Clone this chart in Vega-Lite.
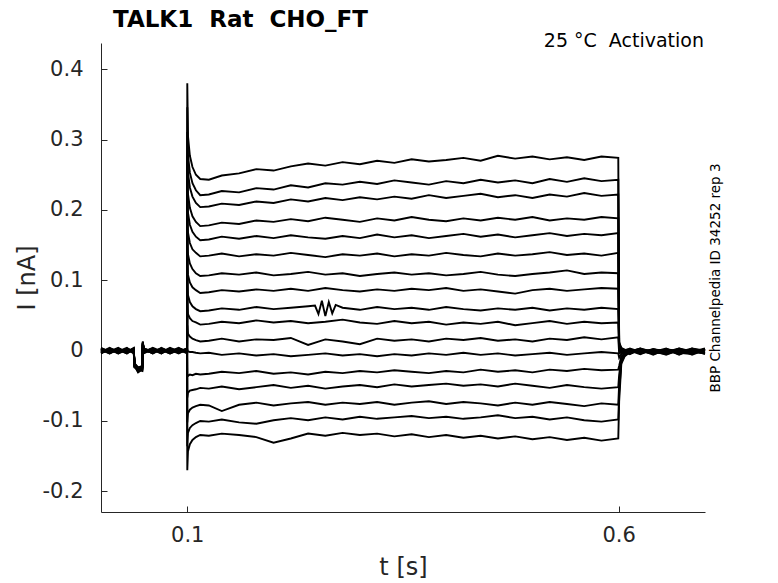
{
  "$schema": "https://vega.github.io/schema/vega-lite/v6.json",
  "width": 604,
  "height": 469,
  "autosize": {"type": "none"},
  "padding": {"left": 101, "top": 43, "right": 73, "bottom": 71},
  "title": {
    "text": "TALK1\u00a0\u00a0Rat\u00a0\u00a0CHO_FT",
    "anchor": "start",
    "frame": "group",
    "dx": 12,
    "offset": 0,
    "font": "DejaVu Sans",
    "fontSize": 23,
    "fontWeight": "bold",
    "color": "#000000"
  },
  "datasets": {
    "traces": [
      {"k":1,"t":0,"i":0.002},{"k":1,"t":0.01,"i":-0.003},{"k":1,"t":0.02,"i":0.001},{"k":1,"t":0.03,"i":-0.002},{"k":1,"t":0.038,"i":0.001},{"k":1,"t":0.0388,"i":-0.018},{"k":1,"t":0.043,"i":-0.024},{"k":1,"t":0.0478,"i":-0.022},{"k":1,"t":0.0485,"i":0.010},{"k":1,"t":0.0495,"i":0.001},{"k":1,"t":0.06,"i":-0.003},{"k":1,"t":0.07,"i":0.002},{"k":1,"t":0.08,"i":-0.002},{"k":1,"t":0.09,"i":0.003},{"k":1,"t":0.0998,"i":-0.001},
      {"k":1,"t":0.1,"i":0.380},{"k":1,"t":0.1008,"i":0.305},{"k":1,"t":0.103,"i":0.277},{"k":1,"t":0.106,"i":0.261},{"k":1,"t":0.11,"i":0.250},{"k":1,"t":0.115,"i":0.244},
      {"k":1,"t":0.125,"i":0.243},{"k":1,"t":0.14,"i":0.249},{"k":1,"t":0.16,"i":0.252},{"k":1,"t":0.18,"i":0.258},{"k":1,"t":0.2,"i":0.256},{"k":1,"t":0.22,"i":0.262},{"k":1,"t":0.24,"i":0.266},{"k":1,"t":0.26,"i":0.263},{"k":1,"t":0.28,"i":0.268},{"k":1,"t":0.3,"i":0.265},{"k":1,"t":0.32,"i":0.270},{"k":1,"t":0.34,"i":0.267},{"k":1,"t":0.36,"i":0.272},{"k":1,"t":0.38,"i":0.269},{"k":1,"t":0.4,"i":0.271},{"k":1,"t":0.42,"i":0.274},{"k":1,"t":0.44,"i":0.270},{"k":1,"t":0.46,"i":0.277},{"k":1,"t":0.48,"i":0.273},{"k":1,"t":0.5,"i":0.276},{"k":1,"t":0.52,"i":0.272},{"k":1,"t":0.54,"i":0.275},{"k":1,"t":0.56,"i":0.271},{"k":1,"t":0.58,"i":0.276},{"k":1,"t":0.5995,"i":0.274},
      {"k":1,"t":0.6005,"i":0.012},{"k":1,"t":0.603,"i":0.004},{"k":1,"t":0.607,"i":0.001},{"k":1,"t":0.613,"i":-0.002},{"k":1,"t":0.625,"i":0.002},{"k":1,"t":0.64,"i":-0.004},{"k":1,"t":0.655,"i":0.001},{"k":1,"t":0.67,"i":-0.003},{"k":1,"t":0.685,"i":0.002},{"k":1,"t":0.7,"i":-0.001},

      {"k":2,"t":0,"i":-0.002},{"k":2,"t":0.01,"i":0.003},{"k":2,"t":0.02,"i":-0.001},{"k":2,"t":0.03,"i":0.002},{"k":2,"t":0.038,"i":-0.003},{"k":2,"t":0.0388,"i":-0.021},{"k":2,"t":0.043,"i":-0.027},{"k":2,"t":0.0478,"i":-0.024},{"k":2,"t":0.0485,"i":0.012},{"k":2,"t":0.0495,"i":-0.002},{"k":2,"t":0.06,"i":0.003},{"k":2,"t":0.07,"i":-0.003},{"k":2,"t":0.08,"i":0.002},{"k":2,"t":0.09,"i":-0.002},{"k":2,"t":0.0998,"i":0.002},
      {"k":2,"t":0.1,"i":0.346},{"k":2,"t":0.1008,"i":0.278},{"k":2,"t":0.103,"i":0.253},{"k":2,"t":0.106,"i":0.238},{"k":2,"t":0.11,"i":0.228},{"k":2,"t":0.115,"i":0.221},
      {"k":2,"t":0.125,"i":0.222},{"k":2,"t":0.14,"i":0.227},{"k":2,"t":0.16,"i":0.225},{"k":2,"t":0.18,"i":0.231},{"k":2,"t":0.2,"i":0.229},{"k":2,"t":0.22,"i":0.235},{"k":2,"t":0.24,"i":0.232},{"k":2,"t":0.26,"i":0.238},{"k":2,"t":0.28,"i":0.236},{"k":2,"t":0.3,"i":0.240},{"k":2,"t":0.32,"i":0.237},{"k":2,"t":0.34,"i":0.242},{"k":2,"t":0.36,"i":0.239},{"k":2,"t":0.38,"i":0.236},{"k":2,"t":0.4,"i":0.241},{"k":2,"t":0.42,"i":0.238},{"k":2,"t":0.44,"i":0.243},{"k":2,"t":0.46,"i":0.239},{"k":2,"t":0.48,"i":0.242},{"k":2,"t":0.5,"i":0.238},{"k":2,"t":0.52,"i":0.244},{"k":2,"t":0.54,"i":0.240},{"k":2,"t":0.56,"i":0.245},{"k":2,"t":0.58,"i":0.241},{"k":2,"t":0.5995,"i":0.243},
      {"k":2,"t":0.6005,"i":0.010},{"k":2,"t":0.603,"i":0.003},{"k":2,"t":0.607,"i":0.000},{"k":2,"t":0.613,"i":0.001},{"k":2,"t":0.625,"i":-0.004},{"k":2,"t":0.64,"i":0.002},{"k":2,"t":0.655,"i":-0.002},{"k":2,"t":0.67,"i":0.003},{"k":2,"t":0.685,"i":-0.003},{"k":2,"t":0.7,"i":0.001},

      {"k":3,"t":0,"i":0.003},{"k":3,"t":0.01,"i":-0.001},{"k":3,"t":0.02,"i":0.004},{"k":3,"t":0.03,"i":-0.003},{"k":3,"t":0.038,"i":0.002},{"k":3,"t":0.0388,"i":-0.020},{"k":3,"t":0.043,"i":-0.026},{"k":3,"t":0.0478,"i":-0.023},{"k":3,"t":0.0485,"i":0.009},{"k":3,"t":0.0495,"i":0.003},{"k":3,"t":0.06,"i":-0.002},{"k":3,"t":0.07,"i":0.001},{"k":3,"t":0.08,"i":-0.004},{"k":3,"t":0.09,"i":0.001},{"k":3,"t":0.0998,"i":-0.003},
      {"k":3,"t":0.1,"i":0.311},{"k":3,"t":0.1008,"i":0.253},{"k":3,"t":0.103,"i":0.232},{"k":3,"t":0.106,"i":0.219},{"k":3,"t":0.11,"i":0.210},{"k":3,"t":0.115,"i":0.204},
      {"k":3,"t":0.125,"i":0.205},{"k":3,"t":0.14,"i":0.209},{"k":3,"t":0.16,"i":0.207},{"k":3,"t":0.18,"i":0.212},{"k":3,"t":0.2,"i":0.210},{"k":3,"t":0.22,"i":0.215},{"k":3,"t":0.24,"i":0.212},{"k":3,"t":0.26,"i":0.217},{"k":3,"t":0.28,"i":0.214},{"k":3,"t":0.3,"i":0.218},{"k":3,"t":0.32,"i":0.215},{"k":3,"t":0.34,"i":0.219},{"k":3,"t":0.36,"i":0.216},{"k":3,"t":0.38,"i":0.221},{"k":3,"t":0.4,"i":0.217},{"k":3,"t":0.42,"i":0.220},{"k":3,"t":0.44,"i":0.223},{"k":3,"t":0.46,"i":0.218},{"k":3,"t":0.48,"i":0.221},{"k":3,"t":0.5,"i":0.217},{"k":3,"t":0.52,"i":0.222},{"k":3,"t":0.54,"i":0.219},{"k":3,"t":0.56,"i":0.224},{"k":3,"t":0.58,"i":0.220},{"k":3,"t":0.5995,"i":0.222},
      {"k":3,"t":0.6005,"i":0.009},{"k":3,"t":0.603,"i":0.002},{"k":3,"t":0.607,"i":-0.001},{"k":3,"t":0.613,"i":-0.004},{"k":3,"t":0.625,"i":0.001},{"k":3,"t":0.64,"i":-0.002},{"k":3,"t":0.655,"i":0.003},{"k":3,"t":0.67,"i":-0.005},{"k":3,"t":0.685,"i":0.000},{"k":3,"t":0.7,"i":-0.003},

      {"k":4,"t":0,"i":-0.004},{"k":4,"t":0.01,"i":0.002},{"k":4,"t":0.02,"i":-0.002},{"k":4,"t":0.03,"i":0.003},{"k":4,"t":0.038,"i":-0.001},{"k":4,"t":0.0388,"i":-0.019},{"k":4,"t":0.043,"i":-0.028},{"k":4,"t":0.0478,"i":-0.025},{"k":4,"t":0.0485,"i":0.011},{"k":4,"t":0.0495,"i":-0.001},{"k":4,"t":0.06,"i":0.002},{"k":4,"t":0.07,"i":-0.004},{"k":4,"t":0.08,"i":0.003},{"k":4,"t":0.09,"i":-0.003},{"k":4,"t":0.0998,"i":0.001},
      {"k":4,"t":0.1,"i":0.277},{"k":4,"t":0.1008,"i":0.223},{"k":4,"t":0.103,"i":0.203},{"k":4,"t":0.106,"i":0.191},{"k":4,"t":0.11,"i":0.183},{"k":4,"t":0.115,"i":0.177},
      {"k":4,"t":0.125,"i":0.178},{"k":4,"t":0.14,"i":0.182},{"k":4,"t":0.16,"i":0.180},{"k":4,"t":0.18,"i":0.185},{"k":4,"t":0.2,"i":0.183},{"k":4,"t":0.22,"i":0.187},{"k":4,"t":0.24,"i":0.184},{"k":4,"t":0.26,"i":0.189},{"k":4,"t":0.28,"i":0.186},{"k":4,"t":0.3,"i":0.183},{"k":4,"t":0.32,"i":0.188},{"k":4,"t":0.34,"i":0.185},{"k":4,"t":0.36,"i":0.190},{"k":4,"t":0.38,"i":0.186},{"k":4,"t":0.4,"i":0.184},{"k":4,"t":0.42,"i":0.188},{"k":4,"t":0.44,"i":0.185},{"k":4,"t":0.46,"i":0.189},{"k":4,"t":0.48,"i":0.186},{"k":4,"t":0.5,"i":0.190},{"k":4,"t":0.52,"i":0.185},{"k":4,"t":0.54,"i":0.188},{"k":4,"t":0.56,"i":0.186},{"k":4,"t":0.58,"i":0.190},{"k":4,"t":0.5995,"i":0.188},
      {"k":4,"t":0.6005,"i":0.008},{"k":4,"t":0.603,"i":0.003},{"k":4,"t":0.607,"i":0.001},{"k":4,"t":0.613,"i":0.002},{"k":4,"t":0.625,"i":-0.003},{"k":4,"t":0.64,"i":0.001},{"k":4,"t":0.655,"i":-0.004},{"k":4,"t":0.67,"i":0.001},{"k":4,"t":0.685,"i":-0.002},{"k":4,"t":0.7,"i":0.003},

      {"k":5,"t":0,"i":0.001},{"k":5,"t":0.01,"i":-0.004},{"k":5,"t":0.02,"i":0.002},{"k":5,"t":0.03,"i":-0.001},{"k":5,"t":0.038,"i":0.003},{"k":5,"t":0.0388,"i":-0.022},{"k":5,"t":0.043,"i":-0.025},{"k":5,"t":0.0478,"i":-0.027},{"k":5,"t":0.0485,"i":0.008},{"k":5,"t":0.0495,"i":0.002},{"k":5,"t":0.06,"i":-0.004},{"k":5,"t":0.07,"i":0.003},{"k":5,"t":0.08,"i":-0.001},{"k":5,"t":0.09,"i":0.002},{"k":5,"t":0.0998,"i":-0.002},
      {"k":5,"t":0.1,"i":0.242},{"k":5,"t":0.1008,"i":0.196},{"k":5,"t":0.103,"i":0.179},{"k":5,"t":0.106,"i":0.169},{"k":5,"t":0.11,"i":0.162},{"k":5,"t":0.115,"i":0.157},
      {"k":5,"t":0.125,"i":0.158},{"k":5,"t":0.14,"i":0.162},{"k":5,"t":0.16,"i":0.159},{"k":5,"t":0.18,"i":0.163},{"k":5,"t":0.2,"i":0.160},{"k":5,"t":0.22,"i":0.164},{"k":5,"t":0.24,"i":0.161},{"k":5,"t":0.26,"i":0.159},{"k":5,"t":0.28,"i":0.163},{"k":5,"t":0.3,"i":0.160},{"k":5,"t":0.32,"i":0.165},{"k":5,"t":0.34,"i":0.161},{"k":5,"t":0.36,"i":0.164},{"k":5,"t":0.38,"i":0.160},{"k":5,"t":0.4,"i":0.163},{"k":5,"t":0.42,"i":0.166},{"k":5,"t":0.44,"i":0.162},{"k":5,"t":0.46,"i":0.165},{"k":5,"t":0.48,"i":0.161},{"k":5,"t":0.5,"i":0.164},{"k":5,"t":0.52,"i":0.167},{"k":5,"t":0.54,"i":0.163},{"k":5,"t":0.56,"i":0.166},{"k":5,"t":0.58,"i":0.164},{"k":5,"t":0.5995,"i":0.167},
      {"k":5,"t":0.6005,"i":0.007},{"k":5,"t":0.603,"i":0.001},{"k":5,"t":0.607,"i":-0.002},{"k":5,"t":0.613,"i":-0.001},{"k":5,"t":0.625,"i":0.003},{"k":5,"t":0.64,"i":-0.005},{"k":5,"t":0.655,"i":0.000},{"k":5,"t":0.67,"i":-0.002},{"k":5,"t":0.685,"i":0.003},{"k":5,"t":0.7,"i":-0.004},

      {"k":6,"t":0,"i":-0.001},{"k":6,"t":0.01,"i":0.002},{"k":6,"t":0.02,"i":-0.004},{"k":6,"t":0.03,"i":0.001},{"k":6,"t":0.038,"i":-0.002},{"k":6,"t":0.0388,"i":-0.020},{"k":6,"t":0.043,"i":-0.029},{"k":6,"t":0.0478,"i":-0.023},{"k":6,"t":0.0485,"i":0.013},{"k":6,"t":0.0495,"i":-0.003},{"k":6,"t":0.06,"i":0.001},{"k":6,"t":0.07,"i":-0.002},{"k":6,"t":0.08,"i":0.004},{"k":6,"t":0.09,"i":-0.001},{"k":6,"t":0.0998,"i":0.003},
      {"k":6,"t":0.1,"i":0.208},{"k":6,"t":0.1008,"i":0.168},{"k":6,"t":0.103,"i":0.153},{"k":6,"t":0.106,"i":0.144},{"k":6,"t":0.11,"i":0.139},{"k":6,"t":0.115,"i":0.134},
      {"k":6,"t":0.125,"i":0.135},{"k":6,"t":0.14,"i":0.138},{"k":6,"t":0.16,"i":0.134},{"k":6,"t":0.18,"i":0.137},{"k":6,"t":0.2,"i":0.135},{"k":6,"t":0.22,"i":0.139},{"k":6,"t":0.24,"i":0.136},{"k":6,"t":0.26,"i":0.133},{"k":6,"t":0.28,"i":0.137},{"k":6,"t":0.3,"i":0.135},{"k":6,"t":0.32,"i":0.138},{"k":6,"t":0.34,"i":0.134},{"k":6,"t":0.36,"i":0.137},{"k":6,"t":0.38,"i":0.135},{"k":6,"t":0.4,"i":0.139},{"k":6,"t":0.42,"i":0.136},{"k":6,"t":0.44,"i":0.134},{"k":6,"t":0.46,"i":0.138},{"k":6,"t":0.48,"i":0.135},{"k":6,"t":0.5,"i":0.137},{"k":6,"t":0.52,"i":0.140},{"k":6,"t":0.54,"i":0.136},{"k":6,"t":0.56,"i":0.138},{"k":6,"t":0.58,"i":0.135},{"k":6,"t":0.5995,"i":0.139},
      {"k":6,"t":0.6005,"i":0.006},{"k":6,"t":0.603,"i":0.002},{"k":6,"t":0.607,"i":0.000},{"k":6,"t":0.613,"i":0.003},{"k":6,"t":0.625,"i":-0.002},{"k":6,"t":0.64,"i":0.000},{"k":6,"t":0.655,"i":-0.003},{"k":6,"t":0.67,"i":0.002},{"k":6,"t":0.685,"i":-0.006},{"k":6,"t":0.7,"i":0.001},

      {"k":7,"t":0,"i":0.004},{"k":7,"t":0.01,"i":-0.002},{"k":7,"t":0.02,"i":0.001},{"k":7,"t":0.03,"i":-0.004},{"k":7,"t":0.038,"i":0.002},{"k":7,"t":0.0388,"i":-0.023},{"k":7,"t":0.043,"i":-0.026},{"k":7,"t":0.0478,"i":-0.028},{"k":7,"t":0.0485,"i":0.010},{"k":7,"t":0.0495,"i":0.002},{"k":7,"t":0.06,"i":-0.001},{"k":7,"t":0.07,"i":0.003},{"k":7,"t":0.08,"i":-0.003},{"k":7,"t":0.09,"i":0.002},{"k":7,"t":0.0998,"i":-0.004},
      {"k":7,"t":0.1,"i":0.174},{"k":7,"t":0.1008,"i":0.137},{"k":7,"t":0.103,"i":0.124},{"k":7,"t":0.106,"i":0.116},{"k":7,"t":0.11,"i":0.110},{"k":7,"t":0.115,"i":0.106},
      {"k":7,"t":0.125,"i":0.107},{"k":7,"t":0.14,"i":0.110},{"k":7,"t":0.16,"i":0.108},{"k":7,"t":0.18,"i":0.111},{"k":7,"t":0.2,"i":0.107},{"k":7,"t":0.22,"i":0.109},{"k":7,"t":0.24,"i":0.112},{"k":7,"t":0.26,"i":0.108},{"k":7,"t":0.28,"i":0.110},{"k":7,"t":0.3,"i":0.106},{"k":7,"t":0.32,"i":0.109},{"k":7,"t":0.34,"i":0.111},{"k":7,"t":0.36,"i":0.108},{"k":7,"t":0.38,"i":0.110},{"k":7,"t":0.4,"i":0.107},{"k":7,"t":0.42,"i":0.109},{"k":7,"t":0.44,"i":0.112},{"k":7,"t":0.46,"i":0.108},{"k":7,"t":0.48,"i":0.106},{"k":7,"t":0.5,"i":0.109},{"k":7,"t":0.52,"i":0.111},{"k":7,"t":0.54,"i":0.114},{"k":7,"t":0.56,"i":0.109},{"k":7,"t":0.58,"i":0.111},{"k":7,"t":0.5995,"i":0.110},
      {"k":7,"t":0.6005,"i":0.005},{"k":7,"t":0.603,"i":0.000},{"k":7,"t":0.607,"i":-0.001},{"k":7,"t":0.613,"i":-0.003},{"k":7,"t":0.625,"i":0.000},{"k":7,"t":0.64,"i":-0.003},{"k":7,"t":0.655,"i":0.002},{"k":7,"t":0.67,"i":-0.004},{"k":7,"t":0.685,"i":0.001},{"k":7,"t":0.7,"i":-0.002},

      {"k":8,"t":0,"i":-0.003},{"k":8,"t":0.01,"i":0.001},{"k":8,"t":0.02,"i":-0.003},{"k":8,"t":0.03,"i":0.002},{"k":8,"t":0.038,"i":-0.004},{"k":8,"t":0.0388,"i":-0.019},{"k":8,"t":0.043,"i":-0.030},{"k":8,"t":0.0478,"i":-0.024},{"k":8,"t":0.0485,"i":0.009},{"k":8,"t":0.0495,"i":-0.002},{"k":8,"t":0.06,"i":0.004},{"k":8,"t":0.07,"i":-0.001},{"k":8,"t":0.08,"i":0.001},{"k":8,"t":0.09,"i":-0.004},{"k":8,"t":0.0998,"i":0.002},
      {"k":8,"t":0.1,"i":0.139},{"k":8,"t":0.1008,"i":0.108},{"k":8,"t":0.103,"i":0.097},{"k":8,"t":0.106,"i":0.090},{"k":8,"t":0.11,"i":0.086},{"k":8,"t":0.115,"i":0.082},
      {"k":8,"t":0.125,"i":0.083},{"k":8,"t":0.14,"i":0.086},{"k":8,"t":0.16,"i":0.084},{"k":8,"t":0.18,"i":0.087},{"k":8,"t":0.2,"i":0.085},{"k":8,"t":0.22,"i":0.088},{"k":8,"t":0.24,"i":0.085},{"k":8,"t":0.26,"i":0.089},{"k":8,"t":0.28,"i":0.086},{"k":8,"t":0.3,"i":0.084},{"k":8,"t":0.32,"i":0.087},{"k":8,"t":0.34,"i":0.085},{"k":8,"t":0.36,"i":0.088},{"k":8,"t":0.38,"i":0.086},{"k":8,"t":0.4,"i":0.089},{"k":8,"t":0.42,"i":0.085},{"k":8,"t":0.44,"i":0.087},{"k":8,"t":0.46,"i":0.084},{"k":8,"t":0.48,"i":0.081},{"k":8,"t":0.5,"i":0.086},{"k":8,"t":0.52,"i":0.088},{"k":8,"t":0.54,"i":0.085},{"k":8,"t":0.56,"i":0.087},{"k":8,"t":0.58,"i":0.089},{"k":8,"t":0.5995,"i":0.088},
      {"k":8,"t":0.6005,"i":0.004},{"k":8,"t":0.603,"i":0.001},{"k":8,"t":0.607,"i":-0.002},{"k":8,"t":0.613,"i":0.000},{"k":8,"t":0.625,"i":-0.005},{"k":8,"t":0.64,"i":0.002},{"k":8,"t":0.655,"i":-0.001},{"k":8,"t":0.67,"i":0.001},{"k":8,"t":0.685,"i":-0.004},{"k":8,"t":0.7,"i":0.002},

      {"k":9,"t":0,"i":0.002},{"k":9,"t":0.01,"i":-0.003},{"k":9,"t":0.02,"i":0.003},{"k":9,"t":0.03,"i":-0.002},{"k":9,"t":0.038,"i":0.001},{"k":9,"t":0.0388,"i":-0.021},{"k":9,"t":0.043,"i":-0.027},{"k":9,"t":0.0478,"i":-0.026},{"k":9,"t":0.0485,"i":0.012},{"k":9,"t":0.0495,"i":0.001},{"k":9,"t":0.06,"i":-0.003},{"k":9,"t":0.07,"i":0.004},{"k":9,"t":0.08,"i":-0.002},{"k":9,"t":0.09,"i":0.003},{"k":9,"t":0.0998,"i":-0.001},
      {"k":9,"t":0.1,"i":0.105},{"k":9,"t":0.1008,"i":0.079},{"k":9,"t":0.103,"i":0.069},{"k":9,"t":0.106,"i":0.063},{"k":9,"t":0.11,"i":0.059},{"k":9,"t":0.115,"i":0.056},
      {"k":9,"t":0.125,"i":0.057},{"k":9,"t":0.14,"i":0.060},{"k":9,"t":0.16,"i":0.058},{"k":9,"t":0.18,"i":0.062},{"k":9,"t":0.2,"i":0.059},{"k":9,"t":0.22,"i":0.061},{"k":9,"t":0.24,"i":0.063},{"k":9,"t":0.248,"i":0.064},{"k":9,"t":0.252,"i":0.052},{"k":9,"t":0.256,"i":0.071},{"k":9,"t":0.26,"i":0.049},{"k":9,"t":0.264,"i":0.069},{"k":9,"t":0.268,"i":0.053},{"k":9,"t":0.272,"i":0.065},{"k":9,"t":0.28,"i":0.061},{"k":9,"t":0.3,"i":0.058},{"k":9,"t":0.32,"i":0.062},{"k":9,"t":0.34,"i":0.059},{"k":9,"t":0.36,"i":0.061},{"k":9,"t":0.38,"i":0.058},{"k":9,"t":0.4,"i":0.062},{"k":9,"t":0.42,"i":0.059},{"k":9,"t":0.44,"i":0.057},{"k":9,"t":0.46,"i":0.060},{"k":9,"t":0.48,"i":0.058},{"k":9,"t":0.5,"i":0.061},{"k":9,"t":0.52,"i":0.057},{"k":9,"t":0.54,"i":0.060},{"k":9,"t":0.56,"i":0.058},{"k":9,"t":0.58,"i":0.061},{"k":9,"t":0.5995,"i":0.059},
      {"k":9,"t":0.6005,"i":0.002},{"k":9,"t":0.603,"i":-0.001},{"k":9,"t":0.607,"i":0.000},{"k":9,"t":0.613,"i":-0.005},{"k":9,"t":0.625,"i":0.002},{"k":9,"t":0.64,"i":-0.001},{"k":9,"t":0.655,"i":-0.004},{"k":9,"t":0.67,"i":0.003},{"k":9,"t":0.685,"i":-0.001},{"k":9,"t":0.7,"i":-0.003},

      {"k":10,"t":0,"i":-0.002},{"k":10,"t":0.01,"i":0.004},{"k":10,"t":0.02,"i":-0.002},{"k":10,"t":0.03,"i":0.001},{"k":10,"t":0.038,"i":-0.003},{"k":10,"t":0.0388,"i":-0.018},{"k":10,"t":0.043,"i":-0.025},{"k":10,"t":0.0478,"i":-0.022},{"k":10,"t":0.0485,"i":0.011},{"k":10,"t":0.0495,"i":-0.004},{"k":10,"t":0.06,"i":0.002},{"k":10,"t":0.07,"i":-0.003},{"k":10,"t":0.08,"i":0.002},{"k":10,"t":0.09,"i":-0.002},{"k":10,"t":0.0998,"i":0.001},
      {"k":10,"t":0.1,"i":0.070},{"k":10,"t":0.1008,"i":0.052},{"k":10,"t":0.103,"i":0.046},{"k":10,"t":0.106,"i":0.042},{"k":10,"t":0.11,"i":0.040},{"k":10,"t":0.115,"i":0.037},
      {"k":10,"t":0.125,"i":0.038},{"k":10,"t":0.14,"i":0.041},{"k":10,"t":0.16,"i":0.039},{"k":10,"t":0.18,"i":0.043},{"k":10,"t":0.2,"i":0.040},{"k":10,"t":0.22,"i":0.042},{"k":10,"t":0.24,"i":0.039},{"k":10,"t":0.26,"i":0.041},{"k":10,"t":0.28,"i":0.044},{"k":10,"t":0.3,"i":0.040},{"k":10,"t":0.32,"i":0.038},{"k":10,"t":0.34,"i":0.042},{"k":10,"t":0.36,"i":0.039},{"k":10,"t":0.38,"i":0.041},{"k":10,"t":0.4,"i":0.037},{"k":10,"t":0.42,"i":0.040},{"k":10,"t":0.44,"i":0.038},{"k":10,"t":0.46,"i":0.041},{"k":10,"t":0.48,"i":0.036},{"k":10,"t":0.5,"i":0.039},{"k":10,"t":0.52,"i":0.042},{"k":10,"t":0.54,"i":0.038},{"k":10,"t":0.56,"i":0.041},{"k":10,"t":0.58,"i":0.039},{"k":10,"t":0.5995,"i":0.040},
      {"k":10,"t":0.6005,"i":0.000},{"k":10,"t":0.603,"i":-0.002},{"k":10,"t":0.607,"i":-0.001},{"k":10,"t":0.613,"i":0.001},{"k":10,"t":0.625,"i":-0.001},{"k":10,"t":0.64,"i":-0.004},{"k":10,"t":0.655,"i":0.002},{"k":10,"t":0.67,"i":-0.006},{"k":10,"t":0.685,"i":0.002},{"k":10,"t":0.7,"i":0.000},

      {"k":11,"t":0,"i":0.001},{"k":11,"t":0.01,"i":-0.001},{"k":11,"t":0.02,"i":0.002},{"k":11,"t":0.03,"i":-0.004},{"k":11,"t":0.038,"i":0.003},{"k":11,"t":0.0388,"i":-0.022},{"k":11,"t":0.043,"i":-0.031},{"k":11,"t":0.0478,"i":-0.027},{"k":11,"t":0.0485,"i":0.008},{"k":11,"t":0.0495,"i":0.003},{"k":11,"t":0.06,"i":-0.002},{"k":11,"t":0.07,"i":0.001},{"k":11,"t":0.08,"i":-0.004},{"k":11,"t":0.09,"i":0.001},{"k":11,"t":0.0998,"i":-0.002},
      {"k":11,"t":0.1,"i":0.036},{"k":11,"t":0.1008,"i":0.024},{"k":11,"t":0.103,"i":0.020},{"k":11,"t":0.106,"i":0.017},{"k":11,"t":0.11,"i":0.015},{"k":11,"t":0.115,"i":0.013},
      {"k":11,"t":0.125,"i":0.014},{"k":11,"t":0.14,"i":0.017},{"k":11,"t":0.16,"i":0.013},{"k":11,"t":0.18,"i":0.016},{"k":11,"t":0.2,"i":0.015},{"k":11,"t":0.22,"i":0.018},{"k":11,"t":0.24,"i":0.008},{"k":11,"t":0.26,"i":0.016},{"k":11,"t":0.28,"i":0.013},{"k":11,"t":0.3,"i":0.009},{"k":11,"t":0.32,"i":0.017},{"k":11,"t":0.34,"i":0.014},{"k":11,"t":0.36,"i":0.016},{"k":11,"t":0.38,"i":0.013},{"k":11,"t":0.4,"i":0.017},{"k":11,"t":0.42,"i":0.015},{"k":11,"t":0.44,"i":0.018},{"k":11,"t":0.46,"i":0.014},{"k":11,"t":0.48,"i":0.016},{"k":11,"t":0.5,"i":0.013},{"k":11,"t":0.52,"i":0.017},{"k":11,"t":0.54,"i":0.015},{"k":11,"t":0.56,"i":0.019},{"k":11,"t":0.58,"i":0.016},{"k":11,"t":0.5995,"i":0.019},
      {"k":11,"t":0.6005,"i":-0.004},{"k":11,"t":0.603,"i":-0.003},{"k":11,"t":0.607,"i":-0.002},{"k":11,"t":0.613,"i":-0.002},{"k":11,"t":0.625,"i":0.003},{"k":11,"t":0.64,"i":-0.002},{"k":11,"t":0.655,"i":-0.005},{"k":11,"t":0.67,"i":0.000},{"k":11,"t":0.685,"i":-0.003},{"k":11,"t":0.7,"i":0.002},

      {"k":12,"t":0,"i":-0.004},{"k":12,"t":0.01,"i":0.003},{"k":12,"t":0.02,"i":-0.003},{"k":12,"t":0.03,"i":0.002},{"k":12,"t":0.038,"i":-0.001},{"k":12,"t":0.0388,"i":-0.020},{"k":12,"t":0.043,"i":-0.028},{"k":12,"t":0.0478,"i":-0.025},{"k":12,"t":0.0485,"i":0.013},{"k":12,"t":0.0495,"i":-0.001},{"k":12,"t":0.06,"i":0.003},{"k":12,"t":0.07,"i":-0.002},{"k":12,"t":0.08,"i":0.002},{"k":12,"t":0.09,"i":-0.003},{"k":12,"t":0.0998,"i":0.003},
      {"k":12,"t":0.1,"i":0.002},{"k":12,"t":0.1008,"i":-0.001},{"k":12,"t":0.103,"i":-0.002},{"k":12,"t":0.106,"i":-0.002},{"k":12,"t":0.11,"i":-0.003},{"k":12,"t":0.115,"i":-0.004},
      {"k":12,"t":0.125,"i":-0.003},{"k":12,"t":0.14,"i":-0.006},{"k":12,"t":0.16,"i":-0.004},{"k":12,"t":0.18,"i":-0.007},{"k":12,"t":0.2,"i":-0.005},{"k":12,"t":0.22,"i":-0.008},{"k":12,"t":0.24,"i":-0.006},{"k":12,"t":0.26,"i":-0.004},{"k":12,"t":0.28,"i":-0.007},{"k":12,"t":0.3,"i":-0.005},{"k":12,"t":0.32,"i":-0.008},{"k":12,"t":0.34,"i":-0.005},{"k":12,"t":0.36,"i":-0.007},{"k":12,"t":0.38,"i":-0.004},{"k":12,"t":0.4,"i":-0.006},{"k":12,"t":0.42,"i":-0.003},{"k":12,"t":0.44,"i":-0.006},{"k":12,"t":0.46,"i":-0.004},{"k":12,"t":0.48,"i":-0.007},{"k":12,"t":0.5,"i":-0.005},{"k":12,"t":0.52,"i":-0.003},{"k":12,"t":0.54,"i":-0.006},{"k":12,"t":0.56,"i":-0.004},{"k":12,"t":0.58,"i":-0.002},{"k":12,"t":0.5995,"i":-0.004},
      {"k":12,"t":0.6005,"i":-0.010},{"k":12,"t":0.603,"i":-0.005},{"k":12,"t":0.607,"i":-0.003},{"k":12,"t":0.613,"i":0.002},{"k":12,"t":0.625,"i":-0.004},{"k":12,"t":0.64,"i":0.001},{"k":12,"t":0.655,"i":0.000},{"k":12,"t":0.67,"i":-0.003},{"k":12,"t":0.685,"i":0.001},{"k":12,"t":0.7,"i":-0.005},

      {"k":13,"t":0,"i":0.003},{"k":13,"t":0.01,"i":-0.002},{"k":13,"t":0.02,"i":0.001},{"k":13,"t":0.03,"i":-0.001},{"k":13,"t":0.038,"i":0.002},{"k":13,"t":0.0388,"i":-0.024},{"k":13,"t":0.043,"i":-0.027},{"k":13,"t":0.0478,"i":-0.029},{"k":13,"t":0.0485,"i":0.010},{"k":13,"t":0.0495,"i":0.002},{"k":13,"t":0.06,"i":-0.004},{"k":13,"t":0.07,"i":0.002},{"k":13,"t":0.08,"i":-0.001},{"k":13,"t":0.09,"i":0.004},{"k":13,"t":0.0998,"i":-0.002},
      {"k":13,"t":0.1,"i":-0.033},{"k":13,"t":0.1008,"i":-0.036},{"k":13,"t":0.103,"i":-0.034},{"k":13,"t":0.106,"i":-0.035},{"k":13,"t":0.11,"i":-0.033},{"k":13,"t":0.115,"i":-0.034},
      {"k":13,"t":0.125,"i":-0.033},{"k":13,"t":0.14,"i":-0.030},{"k":13,"t":0.16,"i":-0.032},{"k":13,"t":0.18,"i":-0.029},{"k":13,"t":0.2,"i":-0.033},{"k":13,"t":0.22,"i":-0.031},{"k":13,"t":0.24,"i":-0.034},{"k":13,"t":0.26,"i":-0.030},{"k":13,"t":0.28,"i":-0.032},{"k":13,"t":0.3,"i":-0.029},{"k":13,"t":0.32,"i":-0.031},{"k":13,"t":0.34,"i":-0.028},{"k":13,"t":0.36,"i":-0.030},{"k":13,"t":0.38,"i":-0.032},{"k":13,"t":0.4,"i":-0.029},{"k":13,"t":0.42,"i":-0.031},{"k":13,"t":0.44,"i":-0.027},{"k":13,"t":0.46,"i":-0.030},{"k":13,"t":0.48,"i":-0.028},{"k":13,"t":0.5,"i":-0.031},{"k":13,"t":0.52,"i":-0.027},{"k":13,"t":0.54,"i":-0.029},{"k":13,"t":0.56,"i":-0.026},{"k":13,"t":0.58,"i":-0.028},{"k":13,"t":0.5995,"i":-0.027},
      {"k":13,"t":0.6005,"i":-0.022},{"k":13,"t":0.603,"i":-0.008},{"k":13,"t":0.607,"i":-0.004},{"k":13,"t":0.613,"i":-0.003},{"k":13,"t":0.625,"i":0.001},{"k":13,"t":0.64,"i":-0.006},{"k":13,"t":0.655,"i":0.002},{"k":13,"t":0.67,"i":-0.001},{"k":13,"t":0.685,"i":-0.004},{"k":13,"t":0.7,"i":0.001},

      {"k":14,"t":0,"i":-0.001},{"k":14,"t":0.01,"i":0.002},{"k":14,"t":0.02,"i":-0.004},{"k":14,"t":0.03,"i":0.003},{"k":14,"t":0.038,"i":-0.002},{"k":14,"t":0.0388,"i":-0.019},{"k":14,"t":0.043,"i":-0.026},{"k":14,"t":0.0478,"i":-0.023},{"k":14,"t":0.0485,"i":0.009},{"k":14,"t":0.0495,"i":-0.002},{"k":14,"t":0.06,"i":0.001},{"k":14,"t":0.07,"i":-0.004},{"k":14,"t":0.08,"i":0.003},{"k":14,"t":0.09,"i":-0.001},{"k":14,"t":0.0998,"i":0.002},
      {"k":14,"t":0.1,"i":-0.067},{"k":14,"t":0.1008,"i":-0.060},{"k":14,"t":0.103,"i":-0.057},{"k":14,"t":0.106,"i":-0.056},{"k":14,"t":0.11,"i":-0.055},{"k":14,"t":0.115,"i":-0.053},
      {"k":14,"t":0.125,"i":-0.054},{"k":14,"t":0.14,"i":-0.051},{"k":14,"t":0.16,"i":-0.055},{"k":14,"t":0.18,"i":-0.052},{"k":14,"t":0.2,"i":-0.049},{"k":14,"t":0.22,"i":-0.053},{"k":14,"t":0.24,"i":-0.050},{"k":14,"t":0.26,"i":-0.054},{"k":14,"t":0.28,"i":-0.051},{"k":14,"t":0.3,"i":-0.049},{"k":14,"t":0.32,"i":-0.052},{"k":14,"t":0.34,"i":-0.048},{"k":14,"t":0.36,"i":-0.051},{"k":14,"t":0.38,"i":-0.049},{"k":14,"t":0.4,"i":-0.047},{"k":14,"t":0.42,"i":-0.050},{"k":14,"t":0.44,"i":-0.048},{"k":14,"t":0.46,"i":-0.051},{"k":14,"t":0.48,"i":-0.047},{"k":14,"t":0.5,"i":-0.050},{"k":14,"t":0.52,"i":-0.053},{"k":14,"t":0.54,"i":-0.049},{"k":14,"t":0.56,"i":-0.052},{"k":14,"t":0.58,"i":-0.054},{"k":14,"t":0.5995,"i":-0.052},
      {"k":14,"t":0.6005,"i":-0.035},{"k":14,"t":0.603,"i":-0.011},{"k":14,"t":0.607,"i":-0.005},{"k":14,"t":0.613,"i":0.000},{"k":14,"t":0.625,"i":-0.002},{"k":14,"t":0.64,"i":0.002},{"k":14,"t":0.655,"i":-0.003},{"k":14,"t":0.67,"i":0.002},{"k":14,"t":0.685,"i":-0.002},{"k":14,"t":0.7,"i":-0.004},

      {"k":15,"t":0,"i":0.002},{"k":15,"t":0.01,"i":-0.004},{"k":15,"t":0.02,"i":0.002},{"k":15,"t":0.03,"i":-0.002},{"k":15,"t":0.038,"i":0.004},{"k":15,"t":0.0388,"i":-0.021},{"k":15,"t":0.043,"i":-0.029},{"k":15,"t":0.0478,"i":-0.026},{"k":15,"t":0.0485,"i":0.012},{"k":15,"t":0.0495,"i":0.001},{"k":15,"t":0.06,"i":-0.003},{"k":15,"t":0.07,"i":0.003},{"k":15,"t":0.08,"i":-0.002},{"k":15,"t":0.09,"i":0.002},{"k":15,"t":0.0998,"i":-0.003},
      {"k":15,"t":0.1,"i":-0.102},{"k":15,"t":0.1008,"i":-0.089},{"k":15,"t":0.103,"i":-0.084},{"k":15,"t":0.106,"i":-0.081},{"k":15,"t":0.11,"i":-0.079},{"k":15,"t":0.115,"i":-0.077},
      {"k":15,"t":0.125,"i":-0.078},{"k":15,"t":0.14,"i":-0.086},{"k":15,"t":0.16,"i":-0.077},{"k":15,"t":0.18,"i":-0.074},{"k":15,"t":0.2,"i":-0.078},{"k":15,"t":0.22,"i":-0.075},{"k":15,"t":0.24,"i":-0.073},{"k":15,"t":0.26,"i":-0.077},{"k":15,"t":0.28,"i":-0.074},{"k":15,"t":0.3,"i":-0.076},{"k":15,"t":0.32,"i":-0.073},{"k":15,"t":0.34,"i":-0.077},{"k":15,"t":0.36,"i":-0.074},{"k":15,"t":0.38,"i":-0.072},{"k":15,"t":0.4,"i":-0.076},{"k":15,"t":0.42,"i":-0.073},{"k":15,"t":0.44,"i":-0.075},{"k":15,"t":0.46,"i":-0.078},{"k":15,"t":0.48,"i":-0.074},{"k":15,"t":0.5,"i":-0.077},{"k":15,"t":0.52,"i":-0.073},{"k":15,"t":0.54,"i":-0.076},{"k":15,"t":0.56,"i":-0.079},{"k":15,"t":0.58,"i":-0.075},{"k":15,"t":0.5995,"i":-0.077},
      {"k":15,"t":0.6005,"i":-0.048},{"k":15,"t":0.603,"i":-0.014},{"k":15,"t":0.607,"i":-0.006},{"k":15,"t":0.613,"i":-0.004},{"k":15,"t":0.625,"i":0.002},{"k":15,"t":0.64,"i":-0.003},{"k":15,"t":0.655,"i":0.001},{"k":15,"t":0.67,"i":-0.005},{"k":15,"t":0.685,"i":0.003},{"k":15,"t":0.7,"i":0.000},

      {"k":16,"t":0,"i":-0.003},{"k":16,"t":0.01,"i":0.001},{"k":16,"t":0.02,"i":-0.001},{"k":16,"t":0.03,"i":0.004},{"k":16,"t":0.038,"i":-0.003},{"k":16,"t":0.0388,"i":-0.023},{"k":16,"t":0.043,"i":-0.025},{"k":16,"t":0.0478,"i":-0.028},{"k":16,"t":0.0485,"i":0.011},{"k":16,"t":0.0495,"i":-0.003},{"k":16,"t":0.06,"i":0.002},{"k":16,"t":0.07,"i":-0.001},{"k":16,"t":0.08,"i":0.001},{"k":16,"t":0.09,"i":-0.003},{"k":16,"t":0.0998,"i":0.001},
      {"k":16,"t":0.1,"i":-0.136},{"k":16,"t":0.1008,"i":-0.117},{"k":16,"t":0.103,"i":-0.110},{"k":16,"t":0.106,"i":-0.106},{"k":16,"t":0.11,"i":-0.103},{"k":16,"t":0.115,"i":-0.100},
      {"k":16,"t":0.125,"i":-0.101},{"k":16,"t":0.14,"i":-0.098},{"k":16,"t":0.16,"i":-0.102},{"k":16,"t":0.18,"i":-0.104},{"k":16,"t":0.2,"i":-0.099},{"k":16,"t":0.22,"i":-0.096},{"k":16,"t":0.24,"i":-0.099},{"k":16,"t":0.26,"i":-0.095},{"k":16,"t":0.28,"i":-0.098},{"k":16,"t":0.3,"i":-0.094},{"k":16,"t":0.32,"i":-0.097},{"k":16,"t":0.34,"i":-0.095},{"k":16,"t":0.36,"i":-0.093},{"k":16,"t":0.38,"i":-0.096},{"k":16,"t":0.4,"i":-0.094},{"k":16,"t":0.42,"i":-0.097},{"k":16,"t":0.44,"i":-0.095},{"k":16,"t":0.46,"i":-0.092},{"k":16,"t":0.48,"i":-0.096},{"k":16,"t":0.5,"i":-0.094},{"k":16,"t":0.52,"i":-0.098},{"k":16,"t":0.54,"i":-0.095},{"k":16,"t":0.56,"i":-0.099},{"k":16,"t":0.58,"i":-0.101},{"k":16,"t":0.5995,"i":-0.098},
      {"k":16,"t":0.6005,"i":-0.060},{"k":16,"t":0.603,"i":-0.016},{"k":16,"t":0.607,"i":-0.007},{"k":16,"t":0.613,"i":0.001},{"k":16,"t":0.625,"i":-0.003},{"k":16,"t":0.64,"i":0.000},{"k":16,"t":0.655,"i":-0.006},{"k":16,"t":0.67,"i":0.001},{"k":16,"t":0.685,"i":-0.001},{"k":16,"t":0.7,"i":-0.003},

      {"k":17,"t":0,"i":0.001},{"k":17,"t":0.01,"i":-0.002},{"k":17,"t":0.02,"i":0.003},{"k":17,"t":0.03,"i":-0.003},{"k":17,"t":0.038,"i":0.001},{"k":17,"t":0.0388,"i":-0.020},{"k":17,"t":0.043,"i":-0.030},{"k":17,"t":0.0478,"i":-0.024},{"k":17,"t":0.0485,"i":0.010},{"k":17,"t":0.0495,"i":0.002},{"k":17,"t":0.06,"i":-0.002},{"k":17,"t":0.07,"i":0.002},{"k":17,"t":0.08,"i":-0.003},{"k":17,"t":0.09,"i":0.001},{"k":17,"t":0.0998,"i":-0.001},
      {"k":17,"t":0.1,"i":-0.170},{"k":17,"t":0.1008,"i":-0.143},{"k":17,"t":0.103,"i":-0.133},{"k":17,"t":0.106,"i":-0.127},{"k":17,"t":0.11,"i":-0.123},{"k":17,"t":0.115,"i":-0.120},
      {"k":17,"t":0.125,"i":-0.121},{"k":17,"t":0.14,"i":-0.118},{"k":17,"t":0.16,"i":-0.120},{"k":17,"t":0.18,"i":-0.123},{"k":17,"t":0.2,"i":-0.131},{"k":17,"t":0.22,"i":-0.125},{"k":17,"t":0.24,"i":-0.118},{"k":17,"t":0.26,"i":-0.121},{"k":17,"t":0.28,"i":-0.117},{"k":17,"t":0.3,"i":-0.120},{"k":17,"t":0.32,"i":-0.118},{"k":17,"t":0.34,"i":-0.122},{"k":17,"t":0.36,"i":-0.119},{"k":17,"t":0.38,"i":-0.123},{"k":17,"t":0.4,"i":-0.120},{"k":17,"t":0.42,"i":-0.124},{"k":17,"t":0.44,"i":-0.121},{"k":17,"t":0.46,"i":-0.125},{"k":17,"t":0.48,"i":-0.122},{"k":17,"t":0.5,"i":-0.126},{"k":17,"t":0.52,"i":-0.123},{"k":17,"t":0.54,"i":-0.127},{"k":17,"t":0.56,"i":-0.124},{"k":17,"t":0.58,"i":-0.128},{"k":17,"t":0.5995,"i":-0.125},
      {"k":17,"t":0.6005,"i":-0.072},{"k":17,"t":0.603,"i":-0.019},{"k":17,"t":0.607,"i":-0.008},{"k":17,"t":0.613,"i":-0.002},{"k":17,"t":0.625,"i":0.000},{"k":17,"t":0.64,"i":-0.004},{"k":17,"t":0.655,"i":0.002},{"k":17,"t":0.67,"i":-0.003},{"k":17,"t":0.685,"i":-0.005},{"k":17,"t":0.7,"i":0.002}
    ]
  },
  "layer": [
    {
      "data": {"name": "traces"},
      "mark": {"type": "line", "color": "#000000", "strokeWidth": 1.9},
      "encoding": {
        "x": {
          "field": "t",
          "type": "quantitative",
          "title": "t [s]",
          "scale": {"domain": [0, 0.7], "nice": false, "zero": false},
          "axis": {
            "values": [0.1, 0.6],
            "format": ".1f",
            "labelPadding": 18,
            "titlePadding": 10
          }
        },
        "y": {
          "field": "i",
          "type": "quantitative",
          "title": "I [nA]",
          "scale": {"domain": [-0.2295, 0.4374], "nice": false, "zero": false},
          "axis": {
            "values": [-0.2, -0.1, 0, 0.1, 0.2, 0.3, 0.4],
            "labelExpr": "replace(format(datum.value, '.1~f'), '\u2212', '-')",
            "labelPadding": 24,
            "titlePadding": 3
          }
        },
        "detail": {"field": "k", "type": "nominal"}
      }
    },
    {
      "data": {"values": [{}]},
      "mark": {
        "type": "text",
        "text": "25 °C\u00a0\u00a0Activation",
        "align": "right",
        "baseline": "middle",
        "dx": -1,
        "font": "DejaVu Sans",
        "fontSize": 19,
        "color": "#000000"
      },
      "encoding": {
        "x": {"datum": 0.7, "type": "quantitative", "title": "t [s]"},
        "y": {
          "datum": 0.44,
          "type": "quantitative",
          "scale": {"domain": [-0.2295, 0.4374], "nice": false, "zero": false},
          "axis": {
            "orient": "right",
            "labels": false,
            "ticks": false,
            "domain": false,
            "title": "BBP Channelpedia ID 34252 rep 3",
            "titleAngle": 270,
            "titleFontSize": 13.5,
            "titleColor": "#000000",
            "titlePadding": 17
          }
        }
      }
    }
  ],
  "resolve": {"scale": {"y": "independent"}, "axis": {"y": "independent"}},
  "config": {
    "view": {"stroke": null},
    "axis": {
      "grid": false,
      "domainColor": "#262626",
      "tickColor": "#262626",
      "labelColor": "#262626",
      "titleColor": "#262626",
      "labelFont": "DejaVu Sans",
      "titleFont": "DejaVu Sans",
      "labelFontSize": 21,
      "titleFontSize": 24,
      "titleFontWeight": "normal",
      "tickSize": -6,
      "domainWidth": 1,
      "tickWidth": 1
    }
  }
}
